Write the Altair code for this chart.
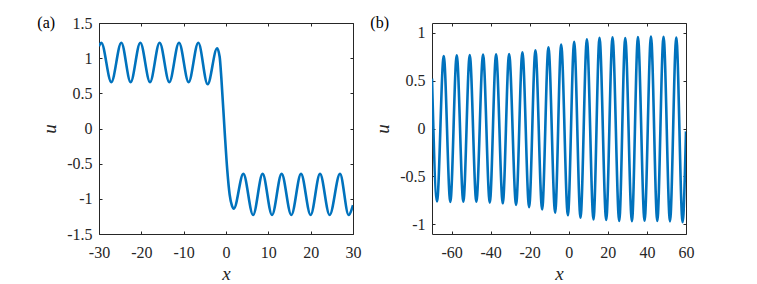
import altair as alt
import pandas as pd

# ---------------- data ----------------
# Panel (a): stationary front with oscillatory tails
a_x = [-30.0, -29.46, -27.09, -24.73, -22.53, -20.24, -17.95, -15.68, -13.39,
       -11.1, -8.83, -6.54, -4.34, -2.1, -1.5, -1.1, -0.33, 0.31, 0.86, 1.42,
       1.85, 4.1, 6.4, 8.65, 10.87, 13.14, 15.43, 17.72, 19.99, 22.21, 24.48,
       26.93, 28.97, 30.0]
a_u = [1.17, 1.22, 0.66, 1.22, 0.66, 1.22, 0.66, 1.22, 0.66,
       1.22, 0.66, 1.22, 0.63, 1.14, 1.02, 0.72, -0.03, -0.60, -0.94, -1.10,
       -1.14, -0.645, -1.23, -0.645, -1.23, -0.645, -1.23, -0.645, -1.23, -0.645, -1.23,
       -0.645, -1.23, -1.09]

# Panel (b): wave train with slowly growing amplitude
b_x = [-70.0, -67.44, -64.0, -60.62, -57.34, -53.96, -50.68, -47.3, -43.87,
       -40.43, -37.2, -33.77, -30.54, -26.96, -23.73, -20.3, -17.07, -13.63,
       -10.4, -6.97, -3.9, -0.46, 2.76, 6.0, 9.27, 12.65, 15.73, 19.16, 22.39,
       25.82, 28.9, 32.33, 35.4, 38.79, 42.07, 45.3, 48.5, 51.8, 55.03, 58.26,
       60.0]
b_u = [0.52, -0.76, 0.755, -0.765, 0.762, -0.763, 0.767, -0.763, 0.77,
       -0.773, 0.773, -0.78, 0.777, -0.796, 0.795, -0.82, 0.815, -0.843,
       0.846, -0.877, 0.875, -0.905, 0.903, -0.931, 0.93, -0.948, 0.945, -0.953, 0.95,
       -0.965, 0.944, -0.967, 0.953, -0.962, 0.96, -0.965, 0.957, -0.968, 0.948, -0.978,
       -0.03]

a_xticks = [-30, -20, -10, 0, 10, 20, 30]
a_yticks = [-1.5, -1, -0.5, 0, 0.5, 1, 1.5]
b_xticks = [-60, -40, -20, 0, 20, 40, 60]
b_yticks = [-1, -0.5, 0, 0.5, 1]

BLUE = "#0072BD"
AXC = "#262626"
FONT = "Liberation Serif"


def make_axis(orient, values, labels, title):
    kw = dict(
        orient=orient, values=values, offset=-3, tickSize=3, domain=False,
        grid=False, tickColor=AXC, tickWidth=1, labels=labels,
        labelFont=FONT, labelFontSize=16, labelColor=AXC,
        labelFlush=False, labelOverlap=False,
        labelExpr="toString(datum.value)",
        title=title,
    )
    if orient in ("bottom", "top"):
        kw["labelPadding"] = 10
    else:
        kw["labelPadding"] = 7
    if title is not None:
        kw.update(titleFont=FONT, titleFontSize=19, titleFontStyle="italic",
                  titleFontWeight="normal", titleColor=AXC)
        kw["titlePadding"] = 4 if orient == "bottom" else 7
    return alt.Axis(**kw)


def panel(xs, us, xdom, ydom, xticks, yticks, tag):
    df = pd.DataFrame({"x": xs, "u": us})
    xsc = alt.Scale(domain=xdom, nice=False, zero=False)
    ysc = alt.Scale(domain=ydom, nice=False, zero=False)
    line = alt.Chart(df).mark_line(
        color=BLUE, strokeWidth=2.6, interpolate="monotone", clip=True
    ).encode(
        x=alt.X("x:Q", scale=xsc, axis=make_axis("bottom", xticks, True, "x")),
        y=alt.Y("u:Q", scale=ysc, axis=make_axis("left", yticks, True, "u")),
    )
    mirror = alt.Chart(df).mark_line(strokeOpacity=0).encode(
        x=alt.X("x:Q", scale=xsc, axis=make_axis("top", xticks, False, None)),
        y=alt.Y("u:Q", scale=ysc, axis=make_axis("right", yticks, False, None)),
    )
    label = alt.Chart(pd.DataFrame({"t": [tag]})).mark_text(
        font=FONT, fontSize=16, color="#000000", align="left", baseline="middle"
    ).encode(text="t:N", x=alt.value(-61.7), y=alt.value(0))
    return alt.layer(line, mirror, label).resolve_axis(
        x="independent", y="independent"
    ).properties(width=254, height=211)


pa = panel(a_x, a_u, [-30, 30], [-1.5, 1.5], a_xticks, a_yticks, "(a)")
pb = panel(b_x, b_u, [-70, 60], [-1.1, 1.1], b_xticks, b_yticks, "(b)")

chart = alt.hconcat(pa, pb, spacing=79, bounds="flush").properties(
    padding={"left": 28, "top": 6, "right": 5, "bottom": 5}
).configure_view(stroke=AXC, strokeWidth=1)

chart.save("out.html", embed_options={"renderer": "svg", "actions": False})
